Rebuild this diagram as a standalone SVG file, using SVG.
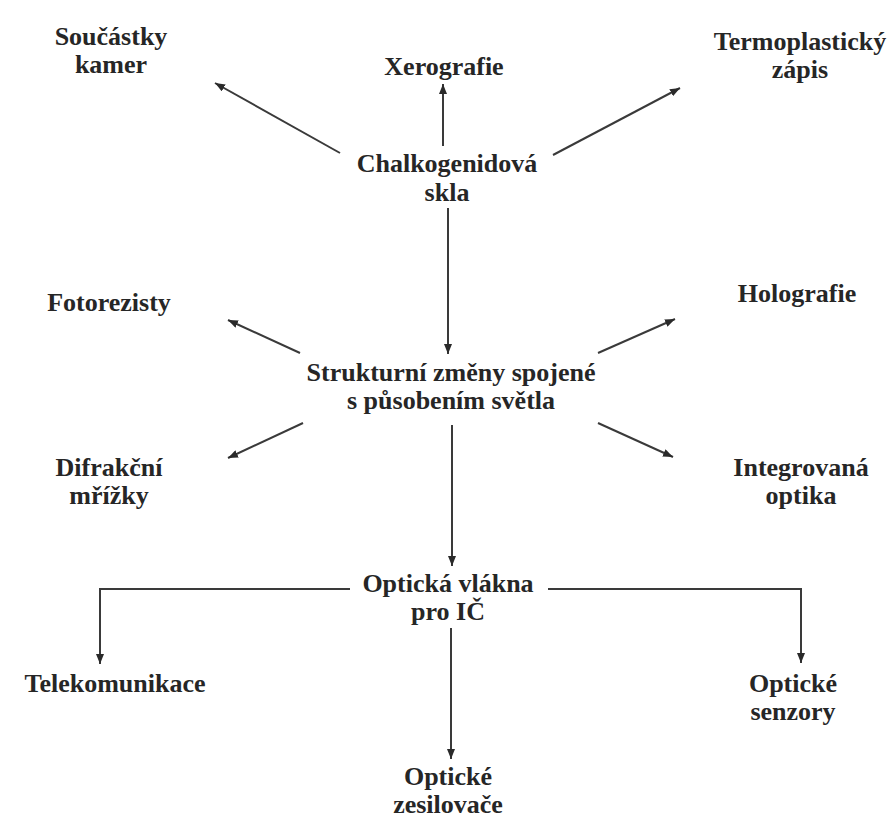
<svg xmlns="http://www.w3.org/2000/svg" width="891" height="819" viewBox="0 0 891 819">
<defs>
<style>
text{font-family:"Liberation Serif","Times New Roman",serif;font-weight:bold;font-size:26px;fill:#262626;text-anchor:middle}
.c{fill:none;stroke:#3a3a3a;stroke-width:2}
</style>
<marker id="ah" viewBox="0 0 10 8" refX="10" refY="4" markerWidth="10" markerHeight="8" markerUnits="userSpaceOnUse" orient="auto">
<path d="M0,0 L10,4 L0,8 z" fill="#2a2a2a"/>
</marker>
</defs>
<rect width="891" height="819" fill="#ffffff"/>
<g id="connectors">
<path class="c" d="M340,153 L215,83" marker-end="url(#ah)"/>
<path class="c" d="M443,146 L443,84" marker-end="url(#ah)"/>
<path class="c" d="M553,155 L680,88" marker-end="url(#ah)"/>
<path class="c" d="M448,208 L448,354" marker-end="url(#ah)"/>
<path class="c" d="M300,353 L228,320" marker-end="url(#ah)"/>
<path class="c" d="M598,353 L675,319" marker-end="url(#ah)"/>
<path class="c" d="M303,423 L228,458" marker-end="url(#ah)"/>
<path class="c" d="M598,423 L673,457" marker-end="url(#ah)"/>
<path class="c" d="M452,425 L452,566" marker-end="url(#ah)"/>
<path class="c" d="M350,589 L100,589 L100,664" marker-end="url(#ah)"/>
<path class="c" d="M548,589 L801,589 L801,663" marker-end="url(#ah)"/>
<path class="c" d="M451,628 L451,759" marker-end="url(#ah)"/>
</g>
<g id="soucastky"><text x="111" y="45">Součástky</text><text x="111" y="73">kamer</text></g>
<g id="xerografie"><text x="444" y="75">Xerografie</text></g>
<g id="termoplasticky"><text x="800" y="50">Termoplastický</text><text x="800" y="78">zápis</text></g>
<g id="chalkogenidova"><text x="447" y="172">Chalkogenidová</text><text x="447" y="201">skla</text></g>
<g id="fotorezisty"><text x="109" y="311">Fotorezisty</text></g>
<g id="holografie"><text x="797" y="302">Holografie</text></g>
<g id="strukturni"><text x="451" y="381">Strukturní změny spojené</text><text x="451" y="409">s působením světla</text></g>
<g id="difrakcni"><text x="109" y="476">Difrakční</text><text x="109" y="504">mřížky</text></g>
<g id="integrovana"><text x="801" y="476">Integrovaná</text><text x="801" y="504">optika</text></g>
<g id="opticka-vlakna"><text x="448" y="592">Optická vlákna</text><text x="448" y="620">pro IČ</text></g>
<g id="telekomunikace"><text x="115" y="692">Telekomunikace</text></g>
<g id="senzory"><text x="793" y="692">Optické</text><text x="793" y="720">senzory</text></g>
<g id="zesilovace"><text x="448" y="785">Optické</text><text x="448" y="813">zesilovače</text></g>
</svg>
